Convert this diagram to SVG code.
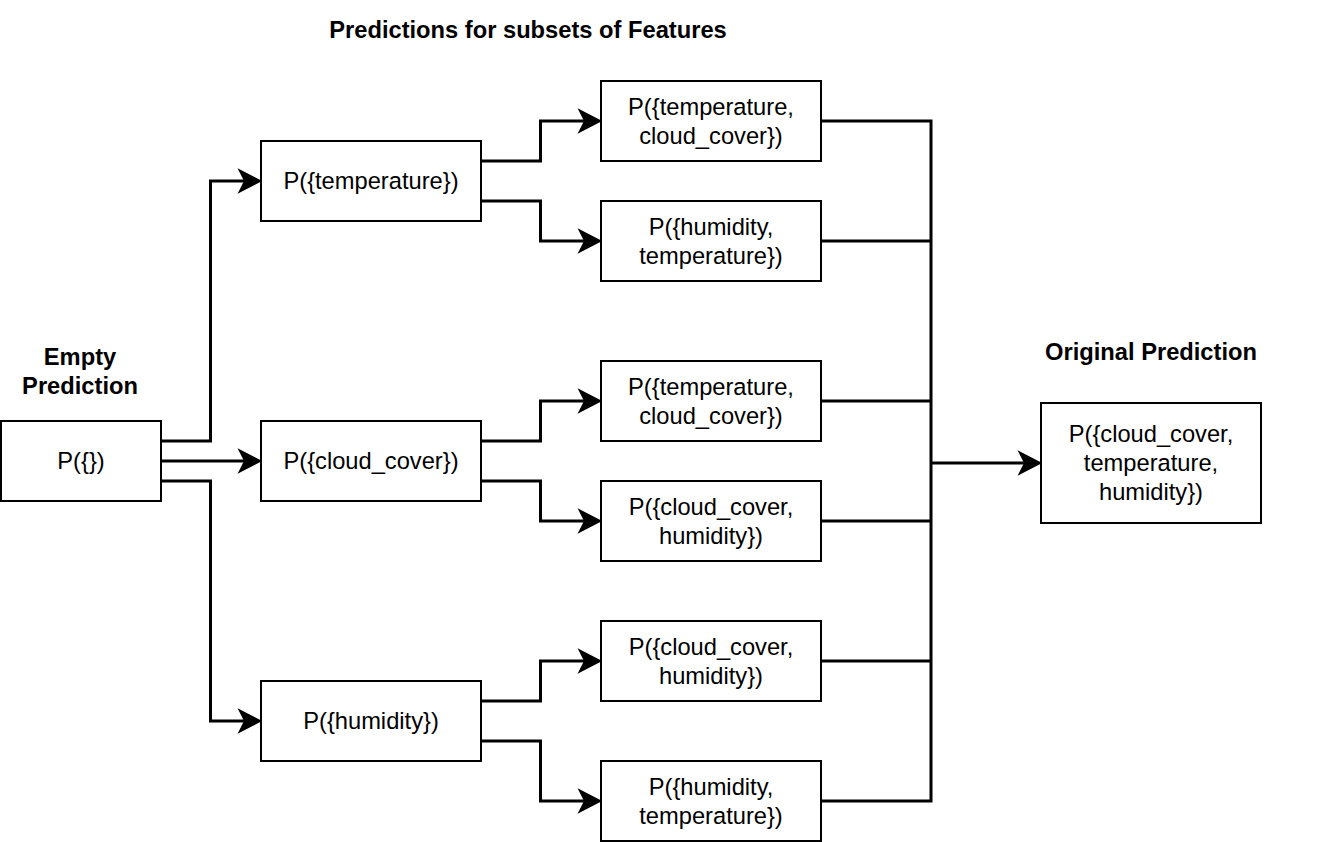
<svg xmlns="http://www.w3.org/2000/svg" width="1336" height="842" viewBox="0 0 1336 842">
<style>
.box{fill:#fff;stroke:#000;stroke-width:2}
.t{font-family:"Liberation Sans",Arial,sans-serif;font-size:23.7px;fill:#000;text-anchor:middle}
.b{font-family:"Liberation Sans",Arial,sans-serif;font-size:23.7px;font-weight:bold;fill:#000;text-anchor:middle}
.c{fill:none;stroke:#000;stroke-width:3;stroke-linejoin:miter;stroke-linecap:butt}
.a{marker-end:url(#arr)}
</style>
<defs>
<marker id="arr" markerUnits="userSpaceOnUse" markerWidth="30" markerHeight="30" viewBox="-8 -14 28 28" refX="0" refY="0" orient="auto">
<path d="M17,0 L-6,-12 L0,0 L-6,12 Z" fill="#000" stroke="none"/>
</marker>
</defs>
<rect width="1336" height="842" fill="#fff"/>
<g id="labels">
<text class="b" x="528" y="38">Predictions for subsets of Features</text>
<text class="b" x="80" y="365">Empty</text>
<text class="b" x="80" y="394">Prediction</text>
<text class="b" x="1151" y="360">Original Prediction</text>
</g>
<g id="connectors">
<path class="c a" d="M161,441 H210.5 V181 H244"/>
<path class="c a" d="M161,461 H244"/>
<path class="c a" d="M161,481 H210.5 V721 H244"/>
<path class="c a" d="M481,161 H540.5 V121 H584"/>
<path class="c a" d="M481,201 H540.5 V241 H584"/>
<path class="c a" d="M481,441 H540.5 V401 H584"/>
<path class="c a" d="M481,481 H540.5 V521 H584"/>
<path class="c a" d="M481,701 H540.5 V661 H584"/>
<path class="c a" d="M481,741 H540.5 V801 H584"/>
<path class="c" d="M821,121 H931 M821,241 H931 M821,401 H931 M821,521 H931 M821,661 H931 M821,801 H931 M931,119.5 V802.5"/>
<path class="c a" d="M931,463 H1024"/>
</g>
<g id="n-empty"><rect class="box" x="1" y="421" width="160" height="80"/><text class="t" x="81" y="469">P({})</text></g>
<g id="n-temp"><rect class="box" x="261" y="141" width="220" height="80"/><text class="t" x="371" y="189">P({temperature})</text></g>
<g id="n-cloud"><rect class="box" x="261" y="421" width="220" height="80"/><text class="t" x="371" y="469">P({cloud_cover})</text></g>
<g id="n-hum"><rect class="box" x="261" y="681" width="220" height="80"/><text class="t" x="371" y="729">P({humidity})</text></g>
<g id="n-tc1"><rect class="box" x="601" y="81" width="220" height="80"/><text class="t" x="711" y="114.5">P({temperature,</text><text class="t" x="711" y="143.5">cloud_cover})</text></g>
<g id="n-ht1"><rect class="box" x="601" y="201" width="220" height="80"/><text class="t" x="711" y="234.5">P({humidity,</text><text class="t" x="711" y="263.5">temperature})</text></g>
<g id="n-tc2"><rect class="box" x="601" y="361" width="220" height="80"/><text class="t" x="711" y="394.5">P({temperature,</text><text class="t" x="711" y="423.5">cloud_cover})</text></g>
<g id="n-ch1"><rect class="box" x="601" y="481" width="220" height="80"/><text class="t" x="711" y="514.5">P({cloud_cover,</text><text class="t" x="711" y="543.5">humidity})</text></g>
<g id="n-ch2"><rect class="box" x="601" y="621" width="220" height="80"/><text class="t" x="711" y="654.5">P({cloud_cover,</text><text class="t" x="711" y="683.5">humidity})</text></g>
<g id="n-ht2"><rect class="box" x="601" y="761" width="220" height="80"/><text class="t" x="711" y="794.5">P({humidity,</text><text class="t" x="711" y="823.5">temperature})</text></g>
<g id="n-orig"><rect class="box" x="1041" y="403" width="220" height="120"/><text class="t" x="1151" y="442">P({cloud_cover,</text><text class="t" x="1151" y="471">temperature,</text><text class="t" x="1151" y="500">humidity})</text></g>
</svg>
